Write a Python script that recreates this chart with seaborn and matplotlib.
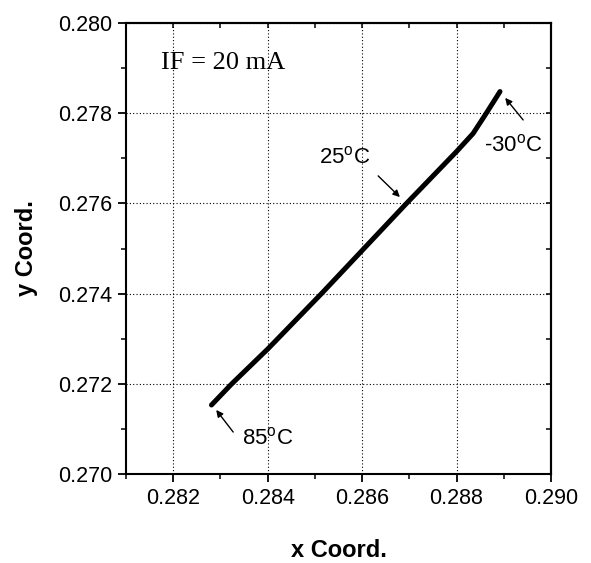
import matplotlib
matplotlib.use("Agg")
import matplotlib.pyplot as plt
import seaborn as sns
import numpy as np
import pandas as pd
from matplotlib.ticker import MultipleLocator

# Data
x_coord = [0.28281, 0.28324, 0.28401, 0.28514, 0.28694, 0.28800, 0.28835, 0.28863, 0.28892]
y_coord = [0.27153, 0.27200, 0.27278, 0.27400, 0.27600, 0.27715, 0.27755, 0.27800, 0.27848]
x_ticks = [0.282, 0.284, 0.286, 0.288, 0.290]
y_ticks = [0.270, 0.272, 0.274, 0.276, 0.278, 0.280]
x_tick_labels = ["0.282", "0.284", "0.286", "0.288", "0.290"]
y_tick_labels = ["0.270", "0.272", "0.274", "0.276", "0.278", "0.280"]
condition_text = "IF = 20 mA"
temp_labels = [r"25$^{\mathrm{o}}$C", r"-30$^{\mathrm{o}}$C", r"85$^{\mathrm{o}}$C"]

sns.set_style("ticks", {"axes.edgecolor": "black", "text.color": "black",
                        "axes.labelcolor": "black", "xtick.color": "black",
                        "ytick.color": "black"})
plt.rcParams["font.family"] = ["Liberation Sans", "DejaVu Sans"]
plt.rcParams["mathtext.fontset"] = "custom"
plt.rcParams["mathtext.rm"] = "Liberation Sans"
plt.rcParams["mathtext.it"] = "Liberation Sans:italic"
plt.rcParams["mathtext.bf"] = "Liberation Sans:bold"

fig = plt.figure(figsize=(5.91, 5.63), dpi=100)
ax = fig.add_axes([126/591, 1-474/563, (551-126)/591, (474-23)/563])

df = pd.DataFrame({"x": x_coord, "y": y_coord})
sns.lineplot(data=df, x="x", y="y", sort=False, estimator=None, color="black",
             lw=3.6, ax=ax, solid_capstyle="round", solid_joinstyle="round")

ax.set_xlim(0.281, 0.290)
ax.set_ylim(0.270, 0.280)
ax.set_xticks(x_ticks)
ax.set_xticklabels(x_tick_labels)
ax.set_yticks(y_ticks)
ax.set_yticklabels(y_tick_labels)
ax.xaxis.set_minor_locator(MultipleLocator(0.001))
ax.yaxis.set_minor_locator(MultipleLocator(0.001))
ax.tick_params(which="major", direction="out", length=6, width=1.3, labelsize=15.5, pad=4,
               colors="black")
ax.tick_params(which="minor", direction="out", length=3.5, width=1.1, colors="black")
ax.grid(True, which="major", linestyle=(0, (1, 2)), color="black", lw=0.8)

for s in ax.spines.values():
    s.set_linewidth(1.5)
    s.set_color("black")

# top / right inward ticks
top = ax.secondary_xaxis("top")
top.set_xticks(np.arange(0.281, 0.29001, 0.001))
top.tick_params(direction="in", length=3.5, width=1.1, labeltop=False, colors="black")
top.set_xticklabels([])
top.spines["top"].set_linewidth(1.5)
top.spines["top"].set_color("black")
right = ax.secondary_yaxis("right")
right.set_yticks(np.arange(0.270, 0.28001, 0.001))
right.tick_params(direction="in", length=3.5, width=1.1, labelright=False, colors="black")
right.set_yticklabels([])
right.spines["right"].set_linewidth(1.5)
right.spines["right"].set_color("black")

ax.set_xlabel("x Coord.", fontsize=17, fontweight="bold", labelpad=22, color="black")
ax.set_ylabel("y Coord.", fontsize=17, fontweight="bold", labelpad=14, color="black")

ax.text(0.28174, 0.27911, condition_text, fontsize=19, family="Liberation Serif",
        ha="left", va="center", color="black")

ap = dict(arrowstyle="-|>", color="black", lw=1.0, mutation_scale=10, shrinkA=0, shrinkB=0)
ax.annotate("", xy=(0.28680, 0.27614), xytext=(0.28634, 0.27661), arrowprops=ap)
ax.text(0.28564, 0.27703, temp_labels[0], fontsize=16, ha="center", va="center", color="black")
ax.annotate("", xy=(0.28903, 0.27834), xytext=(0.28941, 0.27785), arrowprops=ap)
ax.text(0.28920, 0.27729, temp_labels[1], fontsize=16, ha="center", va="center", color="black")
ax.annotate("", xy=(0.28291, 0.27142), xytext=(0.28327, 0.27093), arrowprops=ap)
ax.text(0.28401, 0.27080, temp_labels[2], fontsize=16, ha="center", va="center", color="black")

fig.savefig("out.png", dpi=100)
